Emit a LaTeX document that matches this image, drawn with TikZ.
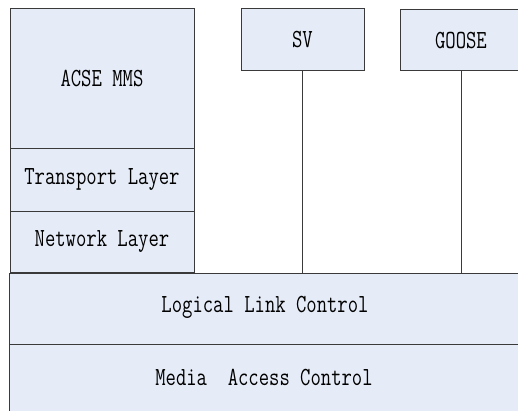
\documentclass[tikz,border=0pt]{standalone}
\usepackage{fontspec}
\definecolor{layerfill}{HTML}{E6ECF7}
\definecolor{layerline}{HTML}{3A3A3A}
\newcommand{\lbl}[1]{\scalebox{1}[1.3]{\ttfamily\fontsize{20.1}{22}\selectfont #1}}
\tikzset{
  layer/.style={draw=layerline, fill=layerfill, line width=0.9pt, inner sep=0pt,
    rectangle, anchor=north west},
  link/.style={draw=layerline, line width=0.9pt}
}
\begin{document}
\begin{tikzpicture}[x=1pt,y=-1pt]
\useasboundingbox (0,0) rectangle (518,411);
\clip (0,0) rectangle (518,411);
% left stack: application, transport, network
\node[layer, minimum width=184pt, minimum height=140pt] (acse) at (9.5,8) {\lbl{ACSE MMS}};
\node[layer, minimum width=184pt, minimum height=63pt] (trans) at (9.5,148) {\lbl{Transport Layer}};
\node[layer, minimum width=184pt, minimum height=61pt] (net) at (9.5,211) {\lbl{Network Layer}};
% direct-mapped services
\node[layer, minimum width=123pt, minimum height=62pt] (sv) at (240.5,8.5) {\lbl{SV}};
\node[layer, minimum width=122pt, minimum height=61pt] (goose) at (399.5,9.5) {\lbl{GOOSE}};
% link layer (runs past the right edge)
\node[layer, minimum width=530pt, minimum height=71pt] (llc) at (9,272.5) {};
\node[layer, minimum width=530pt, minimum height=80pt] (mac) at (9,343.5) {};
\node (llct) at (265,307.5) {\lbl{Logical Link Control}};
\node (mact) at (264,377) {\lbl{Media\ \ Access Control}};
% connectors
\draw[link] (sv.south) -- (sv.south |- llc.north);
\draw[link] (goose.south) -- (goose.south |- llc.north);
\end{tikzpicture}
\end{document}
